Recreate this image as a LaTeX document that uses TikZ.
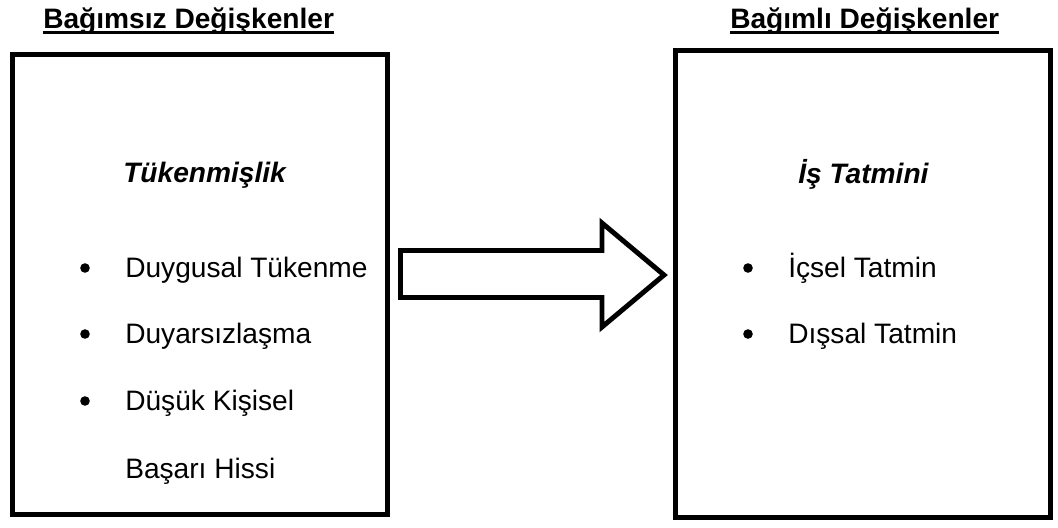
\documentclass[tikz,border=0pt]{standalone}
\usepackage{fontspec}
\setmainfont{Liberation Sans}

\begin{document}
\begin{tikzpicture}
[x=0.025cm,y=-0.025cm,%
  boxDecorate/.style={shape=rectangle,draw,line width=3.5pt,minimum width=9.375cm},%
  arrowDecorate/.style={draw,line width=3.5pt,miter limit=10},%
  textDecorate/.style={inner sep=0pt,anchor=base west,font=\fontsize{20}{24}\selectfont},%
  bulletDecorate/.style={shape=circle,fill,inner sep=0pt,minimum size=0.24cm},%
  titleDecorate/.style={textDecorate,font=\fontsize{20}{24}\selectfont\bfseries},%
  headDecorate/.style={textDecorate,font=\fontsize{20}{24}\selectfont\bfseries\itshape}]
\useasboundingbox (0,0) rectangle (1058,527);
%% boxes
\node (indep) at (200,284.5) [boxDecorate,minimum height=11.5cm] {};
\node (dep) at (863,284) [boxDecorate,minimum height=11.675cm] {};
%% titles
\node (titleL) at (43,28) [titleDecorate] {Bağımsız Değişkenler};
\node (titleR) at (730,28) [titleDecorate] {Bağımlı Değişkenler};
\foreach \nodename in {titleL, titleR}
{
  \draw[line width=2pt] ([yshift=-3.2pt]\nodename.base west) -- ([yshift=-3.2pt]\nodename.base east);
}
%% headings
\node (headL) at (123,182) [headDecorate] {Tükenmişlik};
\node (headR) at (798,183) [headDecorate] {İş Tatmini};
%% bulleted items
\foreach \nodename/\bx/\x/\y/\itemtext in {
  duygusal/85/125/277/Duygusal Tükenme, duyarsiz/85/125/343/Duyarsızlaşma,
  kisisel/85/125/410/Düşük Kişisel, icsel/748/788/277/İçsel Tatmin,
  dissal/748/788/343/Dışsal Tatmin}
{
  \node (b\nodename) at (\bx,\y-9) [bulletDecorate] {};
  \node (\nodename) at (\x,\y) [textDecorate] {\itemtext};
}
\node (basari) at (125,478) [textDecorate] {Başarı Hissi};
%% block arrow
\draw[arrowDecorate] (400.5,250.5) -- (602,250.5) -- (602,223) -- (664,275)
  -- (602,327) -- (602,297.5) -- (400.5,297.5) -- cycle;
\end{tikzpicture}
\end{document}
